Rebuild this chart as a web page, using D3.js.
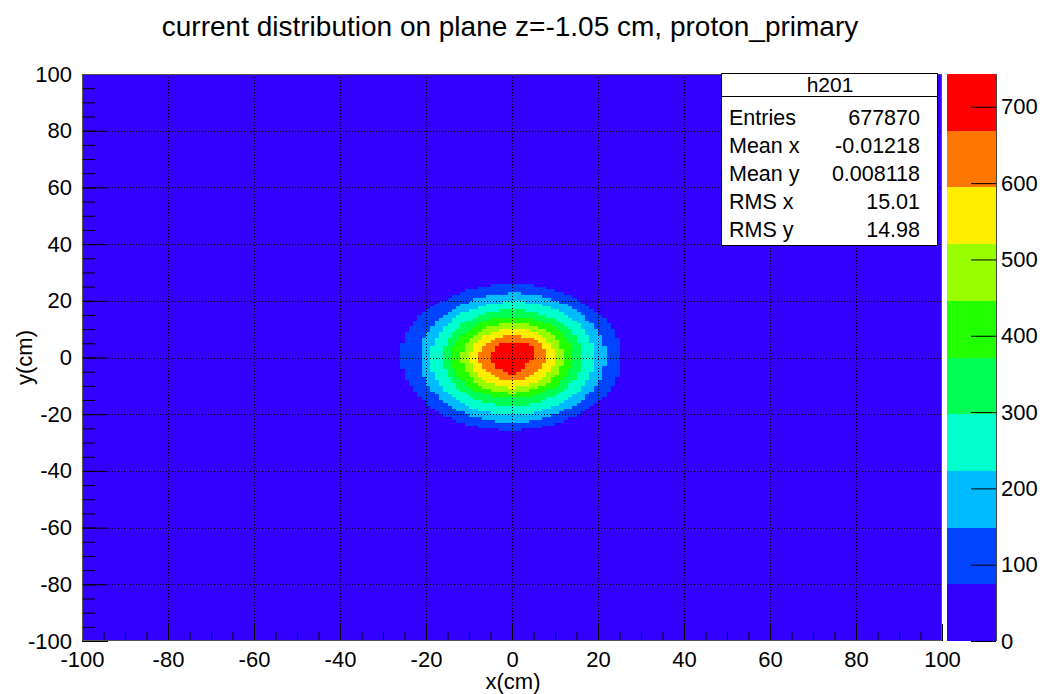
<!DOCTYPE html>
<html>
<head>
<meta charset="utf-8">
<script src="https://cdn.jsdelivr.net/npm/d3@7"></script>
<style>
  body { margin: 0; background: #fff; }
  text { font-family: "Liberation Sans", Arial, Helvetica, sans-serif; fill: #000; }
</style>
</head>
<body>
<svg id="chart" width="1043" height="694"></svg>
<script>
// ---- chart values ----
const chartTitle = "current distribution on plane z=-1.05 cm, proton_primary";
const xTitle = "x(cm)";
const yTitle = "y(cm)";
const xTicks = [-100, -80, -60, -40, -20, 0, 20, 40, 60, 80, 100];
const yTicks = [-100, -80, -60, -40, -20, 0, 20, 40, 60, 80, 100];
const zTicks = [0, 100, 200, 300, 400, 500, 600, 700];

// contour boundaries of the colour scale (10 bands)
const contourLevels = [0, 74.3, 148.6, 222.9, 297.2, 371.5, 445.8, 520.1, 594.4, 668.7, 743];
const levelColors = ["#3300ff", "#0044ff", "#00bbff", "#00ffcc", "#00ff55",
                     "#22ff00", "#99ff00", "#ffee00", "#ff7700", "#ff0000"];

// radius (cm) of each contour boundary, sampled at these polar angles (deg)
const ringAngles = [0, 30, 60, 90, 120, 150, 180, 210, 240, 270, 300, 330];
const edge1 = [25.2, 25.5, 25.4, 26.4, 25.6, 26.0, 26.0, 25.5, 25.8, 25.6, 25.3, 25.5];
const edge2 = [21.7, 22.0, 22.4, 22.6, 22.1, 21.6, 21.4, 21.8, 22.6, 23.0, 22.3, 21.9];
const edge3 = [19.0, 19.3, 19.6, 19.7, 19.4, 19.0, 19.0, 19.4, 20.0, 20.3, 19.7, 19.2];
const edge4 = [16.3, 16.5, 16.6, 16.8, 16.5, 16.1, 15.9, 16.3, 16.9, 17.2, 16.8, 16.4];
const edge5 = [14.2, 14.3, 14.4, 14.4, 14.2, 14.0, 14.0, 14.1, 14.5, 14.4, 14.3, 14.2];
const edge6 = [11.8, 12.1, 12.2, 12.0, 12.0, 11.7, 11.6, 11.8, 12.4, 12.6, 12.2, 11.9];
const edge7 = [9.8, 10.0, 10.2, 10.2, 10.0, 9.8, 9.7, 9.9, 10.4, 10.6, 10.2, 9.9];
const edge8 = [7.9, 8.2, 7.9, 7.9, 7.7, 7.6, 7.7, 7.6, 7.9, 8.3, 7.8, 7.6];
const edge9 = [5.0, 6.0, 5.8, 5.4, 5.4, 5.1, 5.0, 4.9, 5.1, 6.0, 4.4, 4.2];
const levelEdges = [edge1, edge2, edge3, edge4, edge5, edge6, edge7, edge8, edge9];

const binWidth = 1; // cm

const statLabels = ["Entries", "Mean x", "Mean y", "RMS x", "RMS y"];
const statValues = ["677870", "-0.01218", "0.008118", "15.01", "14.98"];
const histName = "h201";

// ---- layout ----
const frame = { left: 82, right: 942, top: 74, bottom: 641 };
const palette = { left: 947, right: 996 };
const fontSize = 22;

const svg = d3.select("#chart");
const x = d3.scaleLinear().domain([-100, 100]).range([frame.left, frame.right]);
const y = d3.scaleLinear().domain([-100, 100]).range([frame.bottom, frame.top]);
const z = d3.scaleLinear().domain([contourLevels[0], contourLevels[contourLevels.length - 1]])
                          .range([frame.bottom, frame.top]);

// background band (lowest level fills the whole frame)
svg.append("rect")
  .attr("x", x(-100)).attr("y", y(100))
  .attr("width", x(100) - x(-100)).attr("height", y(-100) - y(100))
  .attr("fill", levelColors[0]);

// contour radius at a given polar angle, linear between samples
function edgeRadius(edge, deg) {
  const a = ((deg % 360) + 360) % 360;
  const n = ringAngles.length;
  let k = 0;
  while (k < n - 1 && ringAngles[k + 1] <= a) k++;
  const a0 = ringAngles[k], a1 = k + 1 < n ? ringAngles[k + 1] : 360;
  const f = (a - a0) / (a1 - a0);
  return edge[k] * (1 - f) + edge[(k + 1) % n] * f;
}

function binLevel(cx, cy) {
  const r = Math.hypot(cx, cy);
  const deg = Math.atan2(cy, cx) * 180 / Math.PI;
  for (let k = levelEdges.length - 1; k >= 0; k--) {
    if (r < edgeRadius(levelEdges[k], deg)) return k + 1;
  }
  return 0;
}

// cells, merged into horizontal runs per row
const runs = [];
for (let j = -30; j < 30; j++) {
  let start = null, cur = 0;
  for (let i = -30; i <= 30; i++) {
    const lv = i < 30 ? binLevel(i + 0.5, j + 0.5) : 0;
    if (lv !== cur) {
      if (cur > 0) runs.push({ x0: start, x1: i, y0: j, level: cur });
      start = i; cur = lv;
    }
  }
}
svg.append("g").attr("shape-rendering", "crispEdges")
  .selectAll("rect").data(runs).join("rect")
  .attr("x", d => x(d.x0 * binWidth))
  .attr("width", d => x(d.x1 * binWidth) - x(d.x0 * binWidth))
  .attr("y", d => y((d.y0 + 1) * binWidth))
  .attr("height", d => y(d.y0 * binWidth) - y((d.y0 + 1) * binWidth))
  .attr("fill", d => levelColors[d.level]);

// dotted grid
const grid = svg.append("g").attr("stroke", "#000").attr("stroke-width", 1)
  .attr("stroke-dasharray", "1,2").attr("shape-rendering", "crispEdges");
grid.selectAll("line.gx").data(xTicks.filter(v => v > -100 && v < 100)).join("line")
  .attr("class", "gx")
  .attr("x1", d => Math.round(x(d)) + 0.5).attr("x2", d => Math.round(x(d)) + 0.5)
  .attr("y1", frame.top).attr("y2", frame.bottom);
grid.selectAll("line.gy").data(yTicks.filter(v => v > -100 && v < 100)).join("line")
  .attr("class", "gy")
  .attr("y1", d => Math.round(y(d)) + 0.5).attr("y2", d => Math.round(y(d)) + 0.5)
  .attr("x1", frame.left).attr("x2", frame.right);

// axes (ticks pointing inwards)
const minorX = d3.range(-100, 100.1, 5);
const minorY = d3.range(-100, 100.1, 5);
const fmt = d => String(d);

function styleAxis(g) {
  g.select(".domain").remove();
  g.selectAll("line").attr("stroke", "#000");
  g.selectAll("text").attr("font-size", fontSize).attr("font-family", null).attr("fill", "#000");
}

svg.append("g").attr("transform", `translate(0,${frame.bottom})`)
  .call(d3.axisBottom(x).tickValues(minorX).tickSize(-8.5).tickFormat(""))
  .call(styleAxis);
svg.append("g").attr("transform", `translate(0,${frame.bottom})`)
  .call(d3.axisBottom(x).tickValues(xTicks).tickSize(-17).tickPadding(10).tickFormat(fmt))
  .call(styleAxis);

svg.append("g").attr("transform", `translate(${frame.left},0)`)
  .call(d3.axisLeft(y).tickValues(minorY).tickSize(-13).tickFormat(""))
  .call(styleAxis);
svg.append("g").attr("transform", `translate(${frame.left},0)`)
  .call(d3.axisLeft(y).tickValues(yTicks).tickSize(-26).tickPadding(10).tickFormat(fmt))
  .call(styleAxis);

// frame
svg.append("rect")
  .attr("x", frame.left + 0.5).attr("y", frame.top + 0.5)
  .attr("width", frame.right - frame.left - 1).attr("height", frame.bottom - frame.top - 1)
  .attr("fill", "none").attr("stroke", "#555").attr("stroke-width", 1);

// axis titles
svg.append("text").attr("x", x(0) + 1).attr("y", 689)
  .attr("text-anchor", "middle").attr("font-size", fontSize).text(xTitle);
svg.append("text").attr("transform", `translate(32,${y(0)}) rotate(-90)`)
  .attr("text-anchor", "middle").attr("font-size", fontSize).text(yTitle);

// colour palette
const bands = contourLevels.slice(0, -1).map((v, k) => ({ lo: v, hi: contourLevels[k + 1], k }));
svg.append("g").attr("shape-rendering", "crispEdges")
  .selectAll("rect").data(bands).join("rect")
  .attr("x", palette.left).attr("width", palette.right - palette.left)
  .attr("y", d => z(d.hi)).attr("height", d => z(d.lo) - z(d.hi))
  .attr("fill", d => levelColors[d.k]);
svg.append("g").attr("transform", `translate(${palette.right},0)`)
  .call(d3.axisRight(z).tickValues(zTicks).tickSize(-25).tickPadding(5).tickFormat(fmt))
  .call(g => {
    g.select(".domain").attr("stroke", "#444").attr("d", `M0.5,${frame.top}V${frame.bottom}`);
    g.selectAll("line").attr("stroke", "#000");
    g.selectAll("text").attr("font-size", fontSize).attr("font-family", null).attr("fill", "#000");
  });

// statistics box
const box = { left: 721, right: 937, top: 73, head: 96, bottom: 245 };
svg.append("rect")
  .attr("x", box.left + 0.5).attr("y", box.top + 0.5)
  .attr("width", box.right - box.left).attr("height", box.bottom - box.top)
  .attr("fill", "#fff").attr("stroke", "#000");
svg.append("line")
  .attr("x1", box.left).attr("x2", box.right + 1)
  .attr("y1", box.head + 0.5).attr("y2", box.head + 0.5).attr("stroke", "#000");
svg.append("text").attr("x", (box.left + box.right) / 2 + 1).attr("y", 92)
  .attr("text-anchor", "middle").attr("font-size", 21).text(histName);
const rowY = d3.scaleLinear().domain([0, statLabels.length - 1]).range([125, 236.6]);
svg.append("g").selectAll("text").data(statLabels).join("text")
  .attr("x", 729).attr("y", (d, i) => rowY(i)).attr("font-size", 21.5).text(d => d);
svg.append("g").selectAll("text").data(statValues).join("text")
  .attr("x", 920).attr("y", (d, i) => rowY(i)).attr("text-anchor", "end")
  .attr("font-size", 21.5).text(d => d);

// title
svg.append("text").attr("x", 510).attr("y", 36)
  .attr("text-anchor", "middle").attr("font-size", 28).text(chartTitle);
</script>
</body>
</html>
